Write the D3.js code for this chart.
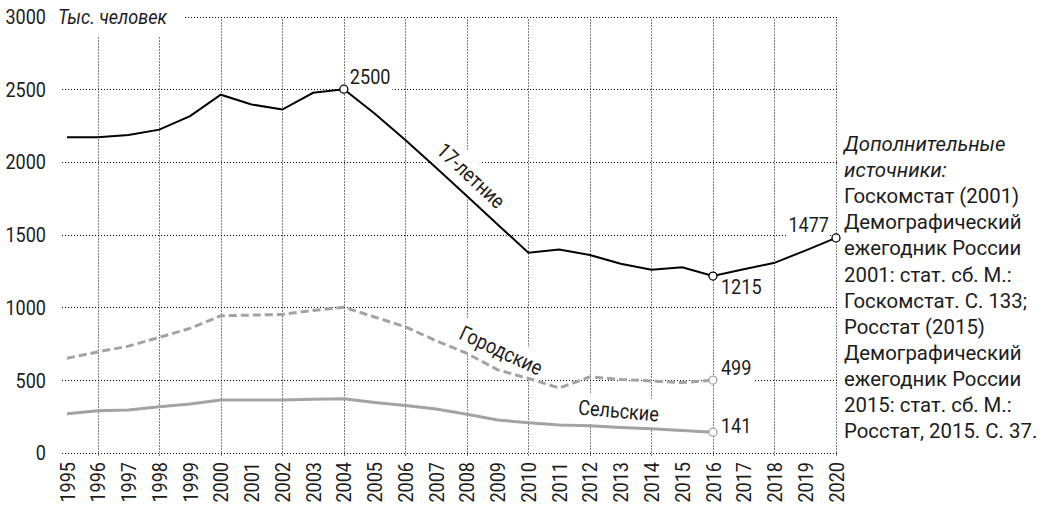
<!DOCTYPE html>
<html><head><meta charset="utf-8">
<script src="https://cdn.jsdelivr.net/npm/d3@7"></script>
<style>
html,body{margin:0;padding:0;background:#fff;}
svg{display:block;}
text{font-family:Roboto, "Liberation Sans", sans-serif; font-weight:400; fill:#1c1c1c;}
</style></head>
<body>
<svg id="chart" width="1044" height="516"></svg>
<script>
const years = d3.range(1995, 2021);
const age17 = [2170, 2170, 2185, 2222, 2315, 2462, 2395, 2360, 2475, 2500, 2333, 2150, 1960, 1765, 1570, 1375, 1398, 1360, 1300, 1258, 1276, 1215, 1262, 1306, 1390, 1477];
const urban = [650, 693, 733, 793, 855, 942, 946, 951, 978, 1000, 933, 866, 770, 683, 570, 511, 445, 522, 504, 493, 482, 499];
const rural = [268, 289, 293, 316, 335, 362, 363, 363, 367, 371, 345, 325, 300, 265, 225, 206, 190, 186, 174, 165, 152, 141];
const yTicks = [0, 500, 1000, 1500, 2000, 2500, 3000];
const gridYears = d3.range(1996, 2021, 2);
const unitLabel = "Тыс. человек";
const seriesNames = ["17-летние", "Городские", "Сельские"];
const sourceLines = ["Дополнительные", "источники:", "Госкомстат (2001)", "Демографический", "ежегодник России", "2001: стат. сб. М.:", "Госкомстат. С. 133;", "Росстат (2015)", "Демографический", "ежегодник России", "2015: стат. сб. М.:", "Росстат, 2015. С. 37."];
const italicLines = 2;

const FS = 21, CF = 0.86, CF_SRC = 0.97;
const svg = d3.select("#chart");
const x = d3.scaleLinear().domain([1995, 2020]).range([67, 836]);
const y = d3.scaleLinear().domain([0, 3000]).range([452.7, 16.5]);
const crisp = v => Math.round(v) + 0.5;

function condense(sel, f) {
  f = f || CF;
  sel.each(function () {
    const L = this.getComputedTextLength();
    d3.select(this).attr("textLength", L * f).attr("lengthAdjust", "spacingAndGlyphs");
  });
  return sel;
}

const gGrid = svg.append("g");
const gBg = svg.append("g");
const gLines = svg.append("g");
const gText = svg.append("g");
const gPts = svg.append("g");

// grid
gGrid.selectAll("line.h").data(yTicks).join("line")
  .attr("x1", 62).attr("x2", crisp(x(2020)) + 1).attr("y1", d => crisp(y(d))).attr("y2", d => crisp(y(d)))
  .attr("stroke", "#000").attr("stroke-width", 1).attr("stroke-dasharray", "1,2");
gGrid.selectAll("line.v").data(gridYears).join("line")
  .attr("x1", d => crisp(x(d))).attr("x2", d => crisp(x(d))).attr("y1", crisp(y(0)) + 2).attr("y2", crisp(y(3000)))
  .attr("stroke", "#000").attr("stroke-width", 1).attr("stroke-dasharray", "1,2");

// top-left label background
gBg.append("rect").attr("x", 0).attr("y", 0).attr("width", 183).attr("height", 37).attr("fill", "#fff");

// y labels
condense(gText.selectAll("text.yl").data(yTicks).join("text")
  .attr("x", 46).attr("y", d => y(d)).attr("dy", "0.36em")
  .attr("text-anchor", "end").attr("font-size", FS).text(d => d));
condense(gText.append("text").attr("x", 58).attr("y", y(3000)).attr("dy", "0.36em")
  .attr("font-size", FS).attr("font-style", "italic").text(unitLabel));

// x labels
condense(gText.selectAll("text.xl").data(years).join("text")
  .attr("transform", d => `translate(${x(d)},462) rotate(-90)`)
  .attr("dy", "0.36em").attr("text-anchor", "end").attr("font-size", FS).text(d => d));

// lines
const line = d3.line().x((d, i) => x(1995 + i)).y(d => y(d));
gLines.append("path").datum(rural).attr("d", line).attr("fill", "none")
  .attr("stroke", "#a3a3a3").attr("stroke-width", 3);
gLines.append("path").datum(urban).attr("d", line).attr("fill", "none")
  .attr("stroke", "#a3a3a3").attr("stroke-width", 3).attr("stroke-dasharray", "8,4");
gLines.append("path").datum(age17).attr("d", line).attr("fill", "none")
  .attr("stroke", "#000").attr("stroke-width", 2);

// labels with white backgrounds
function label(txt, tx, ty, rot, anchor, pad) {
  const tr = `translate(${tx},${ty}) rotate(${rot})`;
  const t = gText.append("text").attr("transform", tr).attr("text-anchor", anchor)
    .attr("font-size", FS).text(txt);
  condense(t);
  const b = t.node().getBBox();
  gBg.append("rect").attr("transform", tr)
    .attr("x", b.x - pad).attr("y", b.y - pad).attr("width", b.width + 2 * pad).attr("height", b.height + 2 * pad)
    .attr("fill", "#fff");
}
label(seriesNames[0], 466, 181, 43, "middle", 4);
label(seriesNames[1], 498, 357, 25, "middle", 3);
label(seriesNames[2], 618, 418, 5, "middle", 3);
label("2500", x(2004) + 6, y(2500) - 5, 0, "start", 2);
label("1215", x(2016) + 8, y(1215) + 18, 0, "start", 2);
label("1477", x(2020) - 7, y(1477) - 6, 0, "end", 1);
label("499", x(2016) + 8, y(499) - 5, 0, "start", 2);
label("141", x(2016) + 8, y(141) + 1, 0, "start", 2);

// points
const pts = [
  {yr: 2004, v: age17[2004 - 1995], c: "#000"},
  {yr: 2016, v: age17[2016 - 1995], c: "#000"},
  {yr: 2020, v: age17[2020 - 1995], c: "#000"},
  {yr: 2016, v: urban[2016 - 1995], c: "#a3a3a3"},
  {yr: 2016, v: rural[2016 - 1995], c: "#a3a3a3"}
];
gPts.selectAll("circle").data(pts).join("circle")
  .attr("cx", d => x(d.yr)).attr("cy", d => y(d.v)).attr("r", 4)
  .attr("fill", "#fff").attr("stroke", d => d.c).attr("stroke-width", 1.3);

// source notes
const src = gText.append("g");
src.selectAll("text").data(sourceLines).join("text")
  .attr("x", 844).attr("y", (d, i) => 151 + i * 26.1)
  .attr("font-size", FS).attr("font-style", (d, i) => i < italicLines ? "italic" : "normal")
  .text(d => d).call(condense, CF_SRC);
</script>
</body></html>
